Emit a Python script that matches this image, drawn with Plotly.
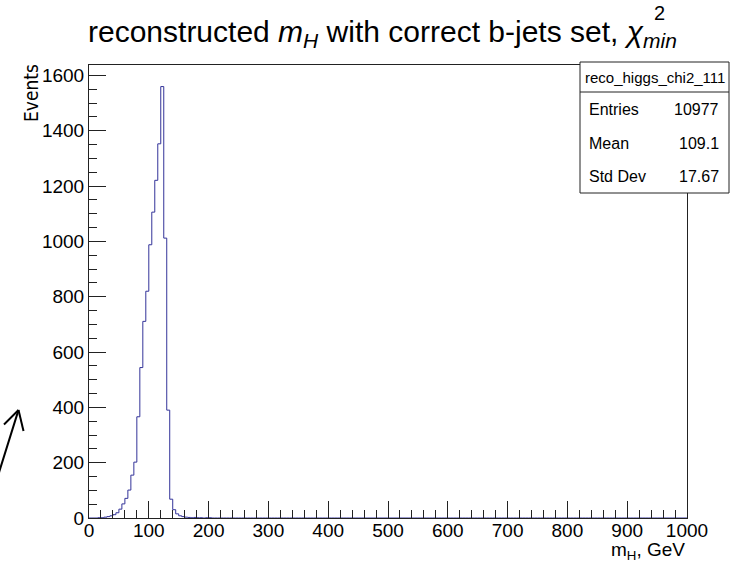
import numpy as np
import plotly.graph_objects as go

# ---- data ----
bin_width = 5.0
x_min, x_max = 0.0, 1000.0
# counts for 5-GeV bins from 0 to 210 GeV; all later bins are empty
counts_low = [0, 0, 0, 1, 1, 3, 5, 8, 12, 19,
              32, 51, 71, 101, 155, 202, 366, 544, 711, 820,
              988, 1106, 1221, 1353, 1560, 1012, 390, 68, 30, 15,
              8, 5, 3, 2, 1, 2, 1, 1, 0, 1,
              1, 0]
x_ticks = [0, 100, 200, 300, 400, 500, 600, 700, 800, 900, 1000]
y_ticks = [0, 200, 400, 600, 800, 1000, 1200, 1400, 1600]
stats_name = "reco_higgs_chi2_111"
stats_labels = ["Entries", "Mean", "Std Dev"]
stats_values = ["10977", "109.1", "17.67"]

n_bins = int((x_max - x_min) / bin_width)
counts = np.zeros(n_bins)
counts[:len(counts_low)] = counts_low
edges = x_min + bin_width * np.arange(n_bins + 1)

# ---- layout geometry (pixels) ----
W, H = 744, 563
L, R, T, B = 89, 687, 65, 518
FONT = "Liberation Sans, Arial, Helvetica, sans-serif"
NARROW = "Liberation Sans Narrow, DejaVu Sans Condensed, Liberation Sans, sans-serif"

def px(x):
    return (x - L) / (R - L)

def py(y):
    return (B - y) / (B - T)

fig = go.Figure()
fig.add_trace(go.Scatter(
    x=list(edges), y=list(counts) + [counts[-1]],
    mode="lines", line=dict(color="#333399", width=1, shape="hv"),
    hoverinfo="skip", showlegend=False))

axis_common = dict(
    showgrid=False, zeroline=False, showline=True, mirror=True,
    linecolor="#222", linewidth=1, ticks="inside", ticklen=17,
    tickcolor="#222", tickwidth=1,
    tickfont=dict(family=FONT, size=19, color="black"),
)
fig.update_xaxes(range=[x_min, x_max], tickvals=x_ticks, ticklabelstandoff=-5,
                 minor=dict(dtick=20, ticklen=8, ticks="inside", tickcolor="#222"),
                 **axis_common)
fig.update_yaxes(range=[0, 1638], tickvals=y_ticks,
                 minor=dict(dtick=50, ticklen=8, ticks="inside", tickcolor="#222"),
                 **axis_common)

shapes = []
# stats box
shapes.append(dict(type="rect", xref="paper", yref="paper",
                   x0=px(580), x1=px(729), y0=py(193), y1=py(62),
                   line=dict(color="#222", width=1), fillcolor="white"))
shapes.append(dict(type="line", xref="paper", yref="paper",
                   x0=px(580), x1=px(729), y0=py(92), y1=py(92),
                   line=dict(color="#222", width=1)))
# hand-drawn arrow at lower left
arrow_col = "black"
shapes.append(dict(type="line", xref="paper", yref="paper",
                   x0=px(-4), y0=py(482), x1=px(18.5), y1=py(410),
                   line=dict(color=arrow_col, width=2)))
shapes.append(dict(type="line", xref="paper", yref="paper",
                   x0=px(18.5), y0=py(410), x1=px(4), y1=py(424.5),
                   line=dict(color=arrow_col, width=2)))
shapes.append(dict(type="line", xref="paper", yref="paper",
                   x0=px(18.5), y0=py(410), x1=px(23.5), y1=py(431),
                   line=dict(color=arrow_col, width=2)))

annotations = []
# title
annotations.append(dict(
    xref="paper", yref="paper", x=px(86), y=py(33), xanchor="left", yanchor="middle",
    text="reconstructed <i>m</i><sub><i>H</i></sub> with correct b-jets set, <i>χ</i><sub><i>min</i></sub>",
    showarrow=False, font=dict(family=FONT, size=30, color="black")))
annotations.append(dict(
    xref="paper", yref="paper", x=px(652), y=py(13), xanchor="left", yanchor="middle",
    text="2", showarrow=False, font=dict(family=FONT, size=20, color="black")))
# axis titles
annotations.append(dict(
    xref="paper", yref="paper", x=1.0, y=py(551), xanchor="right", yanchor="middle",
    text="m<sub>H</sub>, GeV", showarrow=False,
    font=dict(family=FONT, size=19, color="black")))
annotations.append(dict(
    xref="paper", yref="paper", x=px(31), y=py(62), xanchor="center", yanchor="top",
    text="Events", textangle=-90, showarrow=False,
    font=dict(family=NARROW, size=19, color="black")))
# stats text
annotations.append(dict(
    xref="paper", yref="paper", x=px(654.5), y=py(77), xanchor="center", yanchor="middle",
    text=stats_name, showarrow=False, font=dict(family=FONT, size=15, color="black")))
for i, (lab, val) in enumerate(zip(stats_labels, stats_values)):
    yy = py(110 + i * 33.3)
    annotations.append(dict(xref="paper", yref="paper", x=px(587), y=yy,
                            xanchor="left", yanchor="middle", text=lab, showarrow=False,
                            font=dict(family=FONT, size=16, color="black")))
    annotations.append(dict(xref="paper", yref="paper", x=px(721), y=yy,
                            xanchor="right", yanchor="middle", text=val, showarrow=False,
                            font=dict(family=FONT, size=16, color="black")))

fig.update_layout(
    width=W, height=H,
    margin=dict(l=L, r=W - R, t=T, b=H - B, pad=0),
    paper_bgcolor="white", plot_bgcolor="white",
    shapes=shapes, annotations=annotations, showlegend=False,
)
fig.write_html("out.html")
